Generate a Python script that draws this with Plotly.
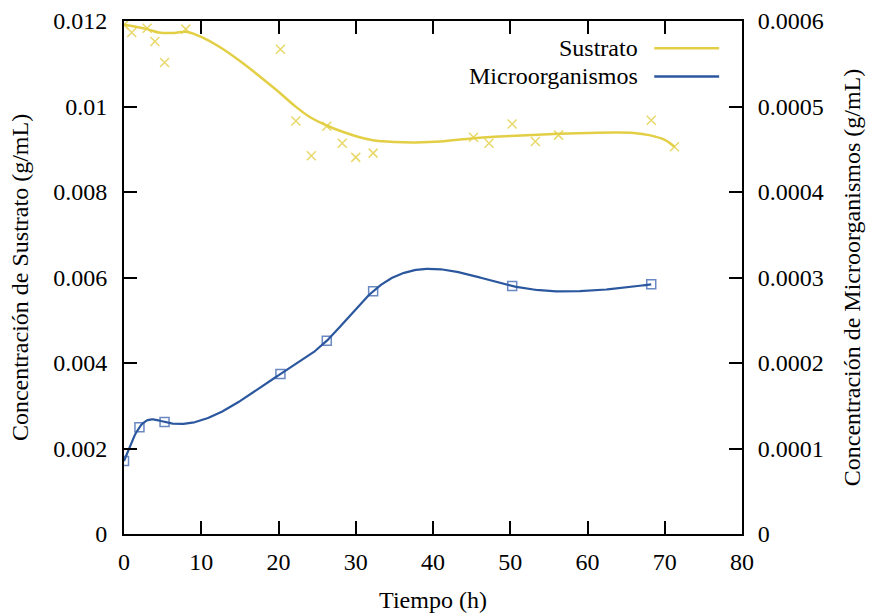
import numpy as np
import plotly.graph_objects as go

# Substrate concentration (g/mL) vs time (h)
tiempo_sustrato = [0, 1, 3, 4, 5.25, 8, 20.25, 22.25, 24.25, 26.25, 28.25, 30, 32.25,
                   45.25, 47.25, 50.25, 53.25, 56.25, 68.25, 71.25]
sustrato = [0.01191, 0.01173, 0.01183, 0.01152, 0.01103, 0.01181, 0.01134, 0.00966,
            0.00885, 0.00954, 0.00914, 0.00881, 0.00891, 0.00928, 0.00914, 0.00959,
            0.00918, 0.00933, 0.00968, 0.00906]

# Fitted substrate curve (g/mL)
tiempo_ajuste = [0, 3, 4.5, 6.5, 8, 10, 12.5, 15.4, 19.7, 22, 24, 26.3, 28.3, 30.5,
                 32.2, 35, 37.8, 41, 45.3, 50, 56.3, 60, 63.7, 66, 68, 70, 71.25]
sustrato_ajuste = [0.01191, 0.01181, 0.01173, 0.01172, 0.01175, 0.01163, 0.01138,
                   0.01101, 0.01039, 0.01003, 0.00976, 0.00955, 0.00941, 0.00928,
                   0.00921, 0.00917, 0.00916, 0.00918, 0.00926, 0.00931, 0.00936,
                   0.00938, 0.00939, 0.00938, 0.00933, 0.00922, 0.00906]

# Microorganism concentration (g/mL) vs time (h)
tiempo_micro = [0, 2, 5.25, 20.25, 26.25, 32.25, 50.25, 68.25]
micro = [0.0000854, 0.000125, 0.000131, 0.000187, 0.000226, 0.000284, 0.000290, 0.000292]

x_ticks = [0, 10, 20, 30, 40, 50, 60, 70, 80]
y1_ticks = [0, 0.002, 0.004, 0.006, 0.008, 0.01, 0.012]
y1_labels = ["0", "0.002", "0.004", "0.006", "0.008", "0.01", "0.012"]
y2_ticks = [0, 0.0001, 0.0002, 0.0003, 0.0004, 0.0005, 0.0006]
y2_labels = ["0", "0.0001", "0.0002", "0.0003", "0.0004", "0.0005", "0.0006"]

YELLOW = "#e3cf45"
YELLOW_PT = "#e8d86a"
BLUE = "#2b579f"
BLUE_PT = "#6a88c2"
FONT = "Liberation Serif"
FS = 24


def natural_spline(xs, ys, n=400):
    """Natural cubic spline through all data points."""
    x = np.asarray(xs, float)
    y = np.asarray(ys, float)
    m = len(x)
    h = np.diff(x)
    A = np.zeros((m, m))
    r = np.zeros(m)
    A[0, 0] = 1
    A[-1, -1] = 1
    for i in range(1, m - 1):
        A[i, i - 1] = h[i - 1]
        A[i, i] = 2 * (h[i - 1] + h[i])
        A[i, i + 1] = h[i]
        r[i] = 3 * ((y[i + 1] - y[i]) / h[i] - (y[i] - y[i - 1]) / h[i - 1])
    c = np.linalg.solve(A, r)
    b = (y[1:] - y[:-1]) / h - h * (2 * c[:-1] + c[1:]) / 3
    d = (c[1:] - c[:-1]) / (3 * h)
    xx = np.linspace(x[0], x[-1], n)
    idx = np.clip(np.searchsorted(x, xx, side="right") - 1, 0, m - 2)
    dx = xx - x[idx]
    yy = y[idx] + b[idx] * dx + c[idx] * dx**2 + d[idx] * dx**3
    return xx, yy


mx, my = natural_spline(tiempo_micro, micro)

fig = go.Figure()
fig.add_trace(go.Scatter(x=tiempo_sustrato, y=sustrato, mode="markers",
                         marker=dict(symbol="x-thin-open", size=9, color=YELLOW_PT,
                                     line=dict(width=1.5, color=YELLOW_PT)),
                         showlegend=False))
fig.add_trace(go.Scatter(x=tiempo_ajuste, y=sustrato_ajuste, mode="lines", name="Sustrato",
                         line=dict(color=YELLOW, width=2.5, shape="spline", smoothing=1.0),
                         showlegend=False))
fig.add_trace(go.Scatter(x=tiempo_micro, y=micro, mode="markers", yaxis="y2",
                         marker=dict(symbol="square-open", size=9, color=BLUE_PT,
                                     line=dict(width=1.5, color=BLUE_PT)),
                         showlegend=False))
fig.add_trace(go.Scatter(x=mx, y=my, mode="lines", yaxis="y2", name="Microorganismos",
                         line=dict(color=BLUE, width=2.2), showlegend=False))

# Key drawn in the gnuplot style: label on the left, line sample on the right
key = [("Sustrato", YELLOW, 0.947), ("Microorganismos", BLUE, 0.892)]
for label, color, yk in key:
    fig.add_annotation(x=0.835, y=yk, xref="paper", yref="paper", text=label,
                       showarrow=False, xanchor="right", yanchor="middle",
                       font=dict(family=FONT, size=FS, color="black"))
    fig.add_shape(type="line", xref="paper", yref="paper", x0=0.858, x1=0.963,
                  y0=yk, y1=yk, line=dict(color=color, width=2.5))

axis_common = dict(showline=True, linecolor="black", linewidth=2, ticks="inside",
                   ticklen=13, tickwidth=2, tickcolor="black", showgrid=False,
                   zeroline=False, automargin=False,
                   tickfont=dict(family=FONT, size=FS, color="black"))

fig.update_layout(
    width=873, height=616,
    margin=dict(l=124, r=131, t=21, b=82),
    paper_bgcolor="white", plot_bgcolor="white",
    font=dict(family=FONT, size=FS, color="black"),
    xaxis=dict(range=[0, 80], tickvals=x_ticks, mirror="ticks", ticklabelstandoff=5,
               title=dict(text="Tiempo (h)", standoff=17,
                          font=dict(family=FONT, size=FS)),
               **axis_common),
    yaxis=dict(range=[0, 0.012], tickvals=y1_ticks, ticktext=y1_labels,
               ticklabelstandoff=10,
               title=dict(text="Concentración de Sustrato (g/mL)", standoff=18,
                          font=dict(family=FONT, size=FS)),
               **axis_common),
    yaxis2=dict(range=[0, 0.0006], tickvals=y2_ticks, ticktext=y2_labels,
                overlaying="y", side="right", ticklabelstandoff=9,
                title=dict(text="Concentración de Microorganismos (g/mL)", standoff=20,
                           font=dict(family=FONT, size=FS)),
                **axis_common),
)

fig.write_html("out.html")
